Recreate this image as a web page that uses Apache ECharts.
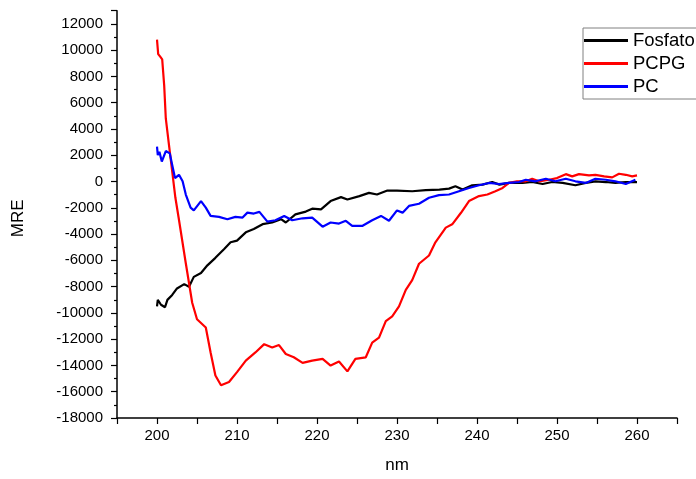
<!DOCTYPE html>
<html>
<head>
<meta charset="utf-8">
<script src="https://cdn.jsdelivr.net/npm/echarts@6/dist/echarts.min.js"></script>
<style>
html,body{margin:0;padding:0;background:#fff;}
#chart{width:696px;height:479px;}
</style>
</head>
<body>
<div id="chart"></div>
<script>
const seriesNames = ['Fosfato', 'PCPG', 'PC'];

const fosfatoNm = [200.0,200.1,200.5,201.0,201.3,201.9,202.5,203.4,204.0,204.6,205.5,206.3,207.3,208.4,209.2,210.0,211.1,212.1,213.2,214.4,215.5,216.1,217.3,218.6,219.4,220.5,221.7,223.0,223.8,225.3,226.5,227.5,228.8,230.0,231.9,233.6,235.3,236.5,237.3,238.2,239.4,240.7,241.9,242.8,244.0,245.7,246.9,248.2,249.4,250.7,252.3,253.6,254.8,256.1,257.3,258.6,260.0];
const fosfatoMre = [-9510,-9010,-9380,-9570,-9010,-8630,-8140,-7810,-8010,-7260,-6960,-6380,-5810,-5130,-4620,-4500,-3870,-3620,-3250,-3120,-2870,-3120,-2500,-2290,-2070,-2120,-1490,-1190,-1370,-1110,-865,-990,-690,-690,-740,-660,-615,-540,-360,-615,-285,-240,-40,-240,-110,-110,-40,-190,-40,-110,-285,-110,15,-40,-110,-40,-40];

const pcpgNm = [200.0,200.15,200.4,200.65,200.9,201.1,201.5,201.9,202.3,202.7,203.6,204.4,205.0,206.1,206.7,207.3,208.0,209.0,210.0,211.1,212.3,213.4,214.4,215.25,216.1,217.1,218.2,219.4,220.7,221.7,222.75,223.8,224.8,226.1,226.9,227.75,228.6,229.4,230.25,231.1,231.9,232.75,234.0,234.8,236.1,236.9,238.0,239.0,240.25,241.3,242.3,243.2,244.0,245.0,246.1,246.9,247.75,249.0,250.0,251.1,251.9,252.75,254.0,254.8,255.9,256.9,257.75,258.6,259.4,260.0];
const pcpgMre = [10800,9700,9500,9300,7300,4800,2770,770,-1240,-2740,-6220,-9230,-10480,-11110,-13010,-14760,-15510,-15260,-14510,-13630,-13010,-12380,-12630,-12450,-13130,-13380,-13800,-13630,-13500,-14010,-13700,-14450,-13500,-13380,-12260,-11880,-10630,-10260,-9510,-8250,-7510,-6260,-5630,-4630,-3510,-3260,-2380,-1490,-1110,-990,-740,-490,-110,15,15,210,15,135,260,560,390,560,465,510,390,315,590,510,390,465];

const pcNm = [200.0,200.1,200.3,200.6,201.1,201.6,201.9,202.25,202.75,203.2,203.6,204.2,204.6,205.5,206.1,206.7,207.75,208.8,209.8,210.7,211.3,212.1,212.8,213.8,214.8,215.9,216.9,218.2,219.4,220.7,221.7,222.75,223.6,224.4,225.7,226.9,228.0,229.0,230.0,230.7,231.5,232.75,234.0,235.25,236.5,237.75,239.0,240.25,241.5,242.75,244.0,245.25,246.1,247.3,248.6,249.8,251.1,252.3,253.6,254.8,256.1,257.3,258.6,259.8];
const pcMre = [2650,2015,2270,1520,2320,2140,1260,260,510,15,-990,-1990,-2200,-1490,-1990,-2620,-2690,-2870,-2690,-2745,-2370,-2440,-2310,-3050,-2950,-2620,-2950,-2800,-2745,-3440,-3120,-3200,-2990,-3370,-3370,-2950,-2620,-2990,-2200,-2370,-1860,-1690,-1240,-1040,-990,-740,-490,-285,-110,-190,-110,-40,135,15,210,15,210,15,-110,210,135,15,-190,135];

const seriesColors = ['#000000', '#ff0000', '#0000ff'];

function zip(xs, ys) {
  const n = Math.min(xs.length, ys.length);
  const out = [];
  for (let i = 0; i < n; i++) out.push([xs[i], ys[i]]);
  return out;
}

const datasets = [zip(fosfatoNm, fosfatoMre), zip(pcpgNm, pcpgMre), zip(pcNm, pcMre)];
const FONT = 'Liberation Sans, Arial, sans-serif';

const chart = echarts.init(document.getElementById('chart'), null, {renderer: 'canvas'});
chart.setOption({
  backgroundColor: '#ffffff',
  animation: false,
  grid: {left: 117, top: 10.7, width: 560, height: 412, containLabel: false},
  legend: {
    orient: 'vertical',
    left: 583,
    top: 28,
    padding: [1, 12, 1, 1],
    itemGap: 0,
    itemWidth: 44,
    itemHeight: 3,
    icon: 'rect',
    borderColor: '#808080',
    borderWidth: 1,
    data: seriesNames,
    textStyle: {fontFamily: FONT, fontSize: 18.5, color: '#000', lineHeight: 23}
  },
  xAxis: {
    type: 'value',
    min: 195,
    max: 265,
    interval: 5,
    name: 'nm',
    nameLocation: 'middle',
    nameGap: 39,
    nameTextStyle: {fontFamily: FONT, fontSize: 17, color: '#000'},
    axisLine: {show: true, onZero: false, lineStyle: {color: '#000', width: 1.5}},
    axisTick: {show: true, inside: false, length: 6, lineStyle: {color: '#000', width: 1.2}},
    axisLabel: {
      fontFamily: FONT, fontSize: 15, color: '#000', margin: 10,
      formatter: function (v) { return (Math.round(v) % 10 === 0) ? String(Math.round(v)) : ''; }
    },
    splitLine: {show: false}
  },
  yAxis: {
    type: 'value',
    min: -18000,
    max: 13000,
    interval: 2000,
    name: 'MRE',
    nameLocation: 'middle',
    nameGap: 90,
    nameRotate: 90,
    nameTextStyle: {fontFamily: FONT, fontSize: 17, color: '#000', padding: [0, 8, 0, 0]},
    axisLine: {show: true, onZero: false, lineStyle: {color: '#000', width: 1.5}},
    axisTick: {show: true, inside: false, length: 6, lineStyle: {color: '#000', width: 1.2}},
    minorTick: {show: true, splitNumber: 2, length: 3, lineStyle: {color: '#000', width: 1.2}},
    axisLabel: {
      fontFamily: FONT, fontSize: 15, color: '#000', margin: 14, showMaxLabel: false,
      formatter: function (v) { return String(Math.round(v)); }
    },
    splitLine: {show: false},
    minorSplitLine: {show: false}
  },
  series: seriesNames.map(function (name, i) {
    return {
      name: name,
      type: 'line',
      data: datasets[i],
      showSymbol: false,
      symbol: 'none',
      smooth: false,
      color: seriesColors[i],
      lineStyle: {color: seriesColors[i], width: 2.2}
    };
  })
});
</script>
</body>
</html>
